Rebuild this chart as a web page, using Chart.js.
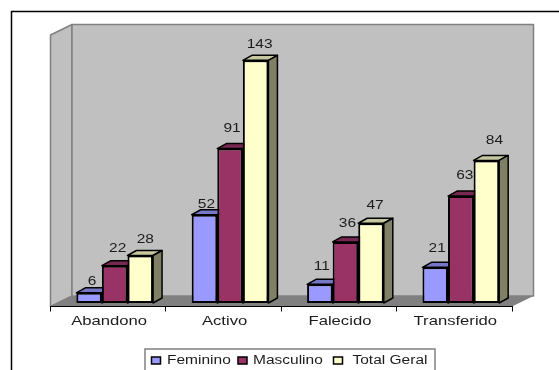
<!DOCTYPE html>
<html>
<head>
<meta charset="utf-8">
<title>Situação por sexo</title>
<style>
  html, body { margin: 0; padding: 0; background: #fff; overflow: hidden; }
  canvas { display: block; }
</style>
<script src="https://cdn.jsdelivr.net/npm/chart.js@4"></script>
</head>
<body>
<canvas id="grafico" width="559" height="370"></canvas>
<script>
var categorias = ['Abandono', 'Activo', 'Falecido', 'Transferido'];
var feminino = [6, 52, 11, 21];
var masculino = [22, 91, 36, 63];
var totalGeral = [28, 143, 47, 84];

// ajuste fino de cada etiqueta respecto a la cara frontal de su barra [dx, dy]
var ajusteFeminino = [[3, -11], [2, -10], [2, -18], [2, -19]];
var ajusteMasculino = [[3, -17], [2, -20], [2, -18], [4, -21]];
var ajusteTotal = [[5, -16], [4, -16], [4, -18], [8, -20]];

var FUENTE = '"Liberation Sans", Arial, sans-serif';
var ESTIRADO = 1.24;
var FONDO_X = 21.5, FONDO_Y = 10.5;   // profundidad de paredes y suelo
var BARRA_X = 9, BARRA_Y = 5;         // profundidad de cada barra
var DESP_X = 6.5, DESP_Y = -3.5;      // las barras se apoyan en medio del suelo

function sombra(hex, f) {
    var n = parseInt(hex.slice(1), 16);
    return 'rgb(' + Math.round((n >> 16) * f) + ',' + Math.round(((n >> 8) & 255) * f) + ',' + Math.round((n & 255) * f) + ')';
}

function poligono(ctx, pts, relleno, borde, ancho) {
    ctx.beginPath();
    pts.forEach(function(p, i) { if (i === 0) ctx.moveTo(p[0], p[1]); else ctx.lineTo(p[0], p[1]); });
    ctx.closePath();
    ctx.fillStyle = relleno;
    ctx.fill();
    if (borde) {
        ctx.strokeStyle = borde;
        ctx.lineWidth = ancho;
        ctx.lineJoin = 'round';
        ctx.stroke();
    }
}

// el texto del gráfico es más ancho que la fuente normal
function texto(ctx, str, x, y, alinear, tam, sx) {
    ctx.save();
    ctx.translate(x, y);
    ctx.scale(sx, 1);
    ctx.font = tam + 'px ' + FUENTE;
    ctx.fillStyle = '#1c1c1c';
    ctx.textAlign = alinear;
    ctx.textBaseline = 'middle';
    ctx.fillText(str, 0, 0);
    ctx.restore();
}

var escena3d = {
    id: 'escena3d',
    beforeDraw: function(chart) {
        var ctx = chart.ctx, a = chart.chartArea;
        ctx.save();
        ctx.fillStyle = '#fff';
        ctx.fillRect(0, 0, chart.width, chart.height);

        // marco exterior
        ctx.strokeStyle = '#000';
        ctx.lineWidth = 1.5;
        ctx.beginPath();
        ctx.moveTo(11.5, chart.height + 2);
        ctx.lineTo(11.5, 11.5);
        ctx.lineTo(chart.width + 2, 11.5);
        ctx.stroke();

        // pared izquierda, pared de fondo y suelo
        poligono(ctx, [[a.left, a.top], [a.left + FONDO_X, a.top - FONDO_Y], [a.left + FONDO_X, a.bottom - FONDO_Y], [a.left, a.bottom]], '#C0C0C0', '#808080', 1.5);
        poligono(ctx, [[a.left + FONDO_X, a.top - FONDO_Y], [a.right + FONDO_X, a.top - FONDO_Y], [a.right + FONDO_X, a.bottom - FONDO_Y], [a.left + FONDO_X, a.bottom - FONDO_Y]], '#C0C0C0', '#808080', 1.5);
        poligono(ctx, [[a.left, a.bottom], [a.left + FONDO_X, a.bottom - FONDO_Y], [a.right + FONDO_X, a.bottom - FONDO_Y], [a.right, a.bottom]], '#808080', null, 0);
        ctx.restore();
    },
    beforeDatasetsDraw: function(chart) {
        var ctx = chart.ctx;
        ctx.save();
        ctx.translate(DESP_X, DESP_Y);

        // caras superior y lateral primero: las caras frontales las tapan al dibujarse
        chart.data.datasets.forEach(function(ds, d) {
            chart.getDatasetMeta(d).data.forEach(function(bar) {
                var p = bar.getProps(['x', 'y', 'base', 'width'], true);
                var izq = p.x - p.width / 2, der = p.x + p.width / 2;
                poligono(ctx, [[izq, p.y], [izq + BARRA_X, p.y - BARRA_Y], [der + BARRA_X, p.y - BARRA_Y], [der, p.y]], sombra(ds.backgroundColor, 0.78), '#000', 1.5);
                poligono(ctx, [[der, p.y], [der + BARRA_X, p.y - BARRA_Y], [der + BARRA_X, p.base - BARRA_Y], [der, p.base]], sombra(ds.backgroundColor, 0.5), '#000', 1.5);
            });
        });
    },
    afterDatasetsDraw: function(chart) {
        chart.ctx.restore();
    },
    afterDraw: function(chart) {
        var ctx = chart.ctx;

        // etiquetas de la categoría
        var ejeX = chart.scales.x;
        categorias.forEach(function(cat, i) {
            texto(ctx, cat, ejeX.getPixelForTick(i) + 1, 321.5, 'center', 13, 1.28);
        });

        // valores sobre las barras
        chart.data.datasets.forEach(function(ds, d) {
            chart.getDatasetMeta(d).data.forEach(function(bar, i) {
                var p = bar.getProps(['x', 'y'], true);
                texto(ctx, String(ds.data[i]), p.x + DESP_X + ds.ajuste[i][0], p.y + DESP_Y + ds.ajuste[i][1], 'center', 12.5, ESTIRADO);
            });
        });

        // leyenda, cortada por el borde inferior
        ctx.save();
        ctx.fillStyle = '#fff';
        ctx.strokeStyle = '#808080';
        ctx.lineWidth = 1.5;
        ctx.fillRect(145, 349, 290, 24);
        ctx.strokeRect(145, 349, 290, 24);
        var marcas = [151.5, 238, 333.5];
        var textos = [167, 253, 352.5];
        chart.data.datasets.forEach(function(ds, d) {
            ctx.fillStyle = ds.backgroundColor;
            ctx.strokeStyle = '#000';
            ctx.lineWidth = 1.5;
            ctx.fillRect(marcas[d], 357, 9, 7);
            ctx.strokeRect(marcas[d], 357, 9, 7);
            texto(ctx, ds.label, textos[d], 361, 'left', 12.5, ESTIRADO);
        });
        ctx.restore();
    }
};

function serie(nombre, datos, color, ajuste) {
    return {
        label: nombre,
        data: datos,
        backgroundColor: color,
        borderColor: '#000',
        borderWidth: 2,
        borderSkipped: false,
        categoryPercentage: 0.665,
        barPercentage: 1,
        clip: false,
        ajuste: ajuste
    };
}

new Chart(document.getElementById('grafico'), {
    type: 'bar',
    data: {
        labels: categorias,
        datasets: [
            serie('Feminino', feminino, '#9999FF', ajusteFeminino),
            serie('Masculino', masculino, '#993366', ajusteMasculino),
            serie('Total Geral', totalGeral, '#FFFFCC', ajusteTotal)
        ]
    },
    options: {
        responsive: false,
        animation: false,
        layout: { padding: { left: 50.5, right: 47, top: 35, bottom: 58.5 } },
        plugins: { legend: { display: false }, tooltip: { enabled: false } },
        scales: {
            x: {
                grid: { drawOnChartArea: false, drawTicks: true, tickLength: 5, color: '#000' },
                border: { color: '#000', width: 1 },
                ticks: { display: false }
            },
            y: { display: false, min: 0, max: 160 }
        }
    },
    plugins: [escena3d]
});
</script>
</body>
</html>
